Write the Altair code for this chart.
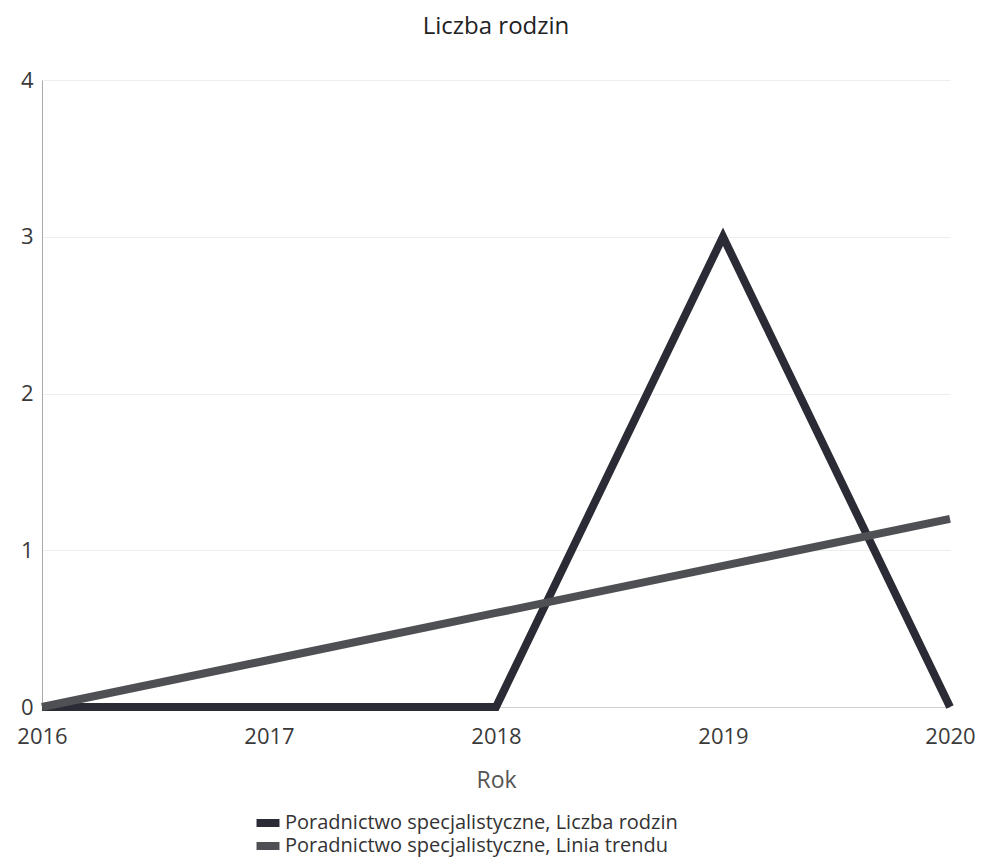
import altair as alt
import pandas as pd

years = [2016, 2017, 2018, 2019, 2020]
liczba_rodzin = [0, 0, 0, 3, 0]
linia_trendu = [0, 0.3, 0.6, 0.9, 1.2]
series_names = [
    "Poradnictwo specjalistyczne, Liczba rodzin",
    "Poradnictwo specjalistyczne, Linia trendu",
]
series_colors = ["#2b2b35", "#4f5053"]
legend_rows_y = [733, 756]

rows = []
for y, v in zip(years, liczba_rodzin):
    rows.append({"Rok": y, "Wartość": v, "Seria": series_names[0]})
for y, v in zip(years, linia_trendu):
    rows.append({"Rok": y, "Wartość": v, "Seria": series_names[1]})
df = pd.DataFrame(rows)

FONT = "Open Sans"

x_enc = alt.X(
    "Rok:Q",
    scale=alt.Scale(domain=[2016, 2020], nice=False),
    axis=alt.Axis(
        values=years,
        format="d",
        title="Rok",
        grid=False,
        ticks=False,
        domainColor="#cfcfcf",
        labelFontSize=22,
        labelColor="#3a3a3a",
        labelPadding=19,
        labelFlush=False,
        titleFontSize=23,
        titleFontWeight="normal",
        titleColor="#555555",
        titlePadding=22,
    ),
)
y_enc = alt.Y(
    "Wartość:Q",
    scale=alt.Scale(domain=[0, 4], nice=False),
    axis=alt.Axis(
        values=[0, 1, 2, 3, 4],
        title=None,
        ticks=False,
        domainColor="#aaaaaa",
        gridColor="#eeeeee",
        labelFontSize=22,
        labelColor="#3a3a3a",
        labelPadding=9,
    ),
)

layers = []
for name, color, ly in zip(series_names, series_colors, legend_rows_y):
    layers.append(
        alt.Chart(df)
        .transform_filter(alt.datum.Seria == name)
        .mark_line(strokeWidth=8, strokeJoin="miter")
        .encode(
            x=x_enc,
            y=y_enc,
            color=alt.Color(
                "Seria:N",
                scale=alt.Scale(domain=[name], range=[color]),
                legend=alt.Legend(
                    title=None,
                    orient="none",
                    legendX=216,
                    legendY=ly,
                    direction="vertical",
                    symbolType="M-2,0H2",
                    symbolSize=132,
                    symbolStrokeWidth=8,
                    labelFontSize=20,
                    labelColor="#333333",
                    labelLimit=0,
                    labelOffset=7,
                    padding=0,
                ),
            ),
            order=alt.Order("Rok:Q"),
        )
    )

chart = (
    alt.layer(*layers)
    .resolve_scale(color="independent")
    .resolve_legend(color="independent")
    .properties(
        width=908,
        height=627,
        autosize=alt.AutoSizeParams(type="none"),
        padding={"left": 34, "top": 72, "right": 26, "bottom": 153},
        title=alt.TitleParams(
            "Liczba rodzin",
            fontSize=24,
            fontWeight="normal",
            color="#222222",
            anchor="middle",
            offset=30,
        ),
    )
    .configure(font=FONT)
    .configure_view(stroke=None)
)

chart.save("out.html", embed_options={"renderer": "svg", "actions": False})
